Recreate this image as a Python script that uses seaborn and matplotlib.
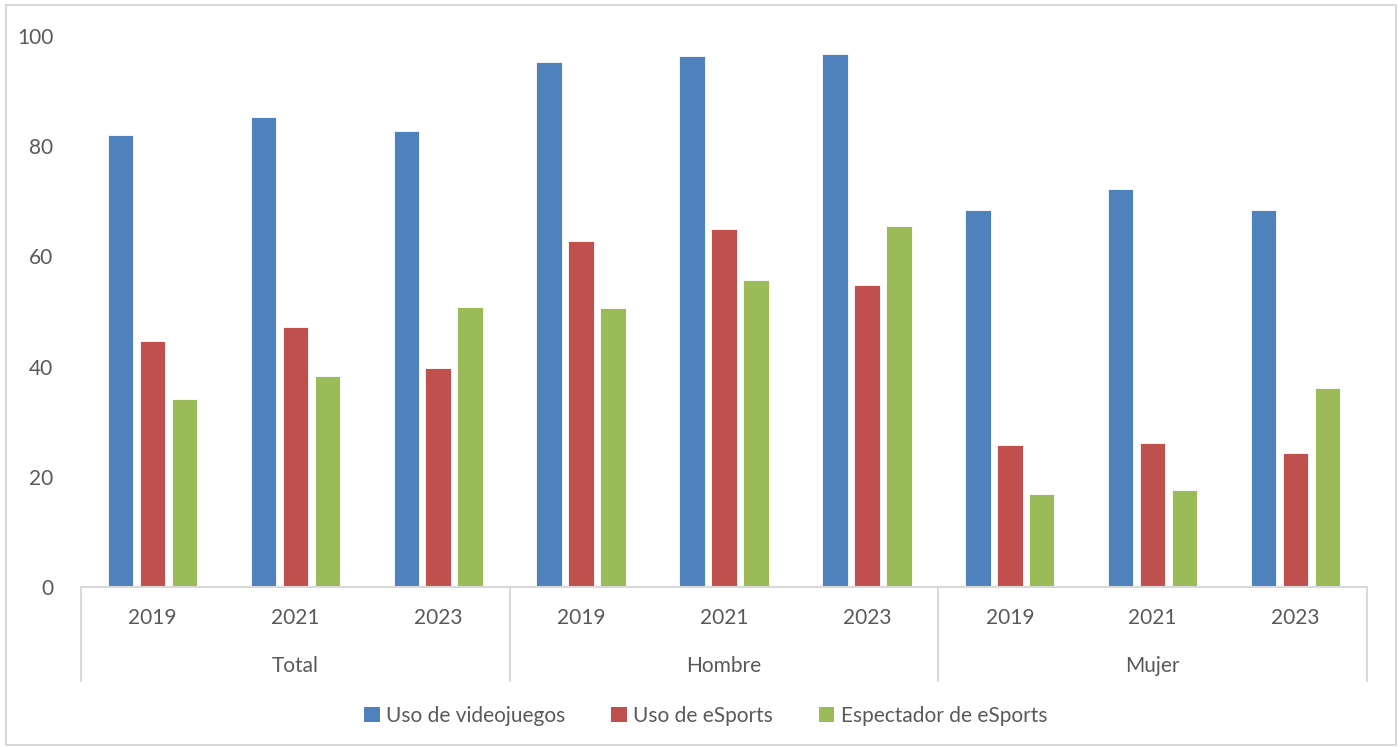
import matplotlib
matplotlib.use("Agg")
import matplotlib.pyplot as plt
import matplotlib.transforms as mtransforms
from matplotlib.patches import Rectangle, Patch
from matplotlib.lines import Line2D
import seaborn as sns
import pandas as pd

# Survey results (%) by group and year
groups = ["Total", "Hombre", "Mujer"]
years = ["2019", "2021", "2023"]
series = ["Uso de videojuegos", "Uso de eSports", "Espectador de eSports"]

uso_videojuegos = [82.1, 85.3, 82.8, 95.3, 96.4, 96.8, 68.5, 72.2, 68.4]
uso_esports = [44.6, 47.1, 39.7, 62.8, 64.9, 54.9, 25.8, 26.2, 24.3]
espectador_esports = [34.1, 38.3, 50.8, 50.7, 55.8, 65.5, 16.8, 17.6, 36.1]

colors = ["#4F81BD", "#C0504D", "#9BBB59"]
text_color = "#595959"
line_color = "#D9D9D9"

sns.set_theme(style="white")
plt.rcParams["font.family"] = ["Lato", "DejaVu Sans"]

# Long-format table: one row per (group-year, series)
rows = []
categories = [f"{g} {y}" for g in groups for y in years]
for values, name in zip([uso_videojuegos, uso_esports, espectador_esports], series):
    for cat, v in zip(categories, values):
        rows.append({"categoria": cat, "serie": name, "valor": v})
df = pd.DataFrame(rows)

fig = plt.figure(figsize=(14, 7.47), dpi=100)
ax = fig.add_axes([0.0579, 0.2142, 0.9185, 0.7376])

sns.barplot(
    data=df, x="categoria", y="valor", hue="serie",
    order=categories, hue_order=series, palette=colors,
    width=0.67, gap=0.2, saturation=1, ax=ax,
    edgecolor="white", linewidth=0.6, legend=False,
)

ax.set_xlim(-0.5, len(categories) - 0.5)
ax.set_ylim(0, 100)
ax.set_yticks([0, 20, 40, 60, 80, 100])
ax.set_xticks(range(len(categories)))
ax.set_xticklabels([y for g in groups for y in years])
ax.set_xlabel("")
ax.set_ylabel("")
ax.tick_params(axis="both", length=0, labelsize=15, colors=text_color)
ax.tick_params(axis="x", pad=15)
ax.tick_params(axis="y", pad=20)

for side in ["left", "right", "top"]:
    ax.spines[side].set_visible(False)
ax.spines["bottom"].set_color(line_color)
ax.spines["bottom"].set_linewidth(1.5)

# Second level of the category axis: group separators and group names
trans = mtransforms.blended_transform_factory(ax.transData, ax.transAxes)
for xpos in [-0.5, 2.5, 5.5, 8.5]:
    ax.add_line(Line2D([xpos, xpos], [0, -0.17], transform=trans,
                       color=line_color, lw=1.5, clip_on=False))
for i, g in enumerate(groups):
    ax.text(3 * i + 1, -0.143, g, transform=trans, ha="center", va="center",
            fontsize=15, color=text_color)

handles = [Patch(facecolor=c, edgecolor="none") for c in colors]
fig.legend(handles, series, loc="center", bbox_to_anchor=(0.504, 0.0415),
           ncol=3, frameon=False, fontsize=15, labelcolor=text_color,
           handlelength=0.75, handleheight=0.75, handletextpad=0.3,
           columnspacing=2.2)

# Chart frame
fig.patches.append(Rectangle((0.004, 0.003), 0.993, 0.99, transform=fig.transFigure,
                             fill=False, edgecolor=line_color, lw=1.5))

fig.savefig("out.png", dpi=100, facecolor="white")
